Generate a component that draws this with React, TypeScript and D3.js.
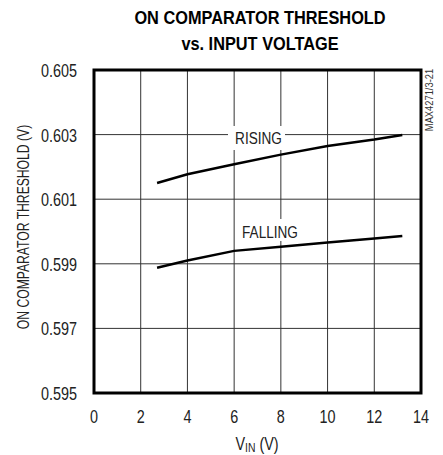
import React from "react";
import * as d3 from "d3";

const xTicks = [0, 2, 4, 6, 8, 10, 12, 14];
const yTicks = [0.595, 0.597, 0.599, 0.601, 0.603, 0.605];
const vin = [2.7, 4, 6, 8, 10, 12, 13.2];
const rising = [0.6015, 0.60177, 0.60208, 0.60238, 0.60265, 0.60285, 0.60299];
const falling = [0.59888, 0.5991, 0.5994, 0.59953, 0.59966, 0.59978, 0.59986];

const FONT = "'Liberation Sans', Arial, sans-serif";

function T({ x, y, sx = 0.8, anchor = "middle", size, weight, children, rot = 0, fill = "#222" }: any) {
  return (
    <text
      transform={`translate(${x},${y}) rotate(${rot}) scale(${sx},1)`}
      textAnchor={anchor}
      fontSize={size}
      fontWeight={weight}
      fill={fill}
    >
      {children}
    </text>
  );
}

export default function App() {
  const W = 443, H = 455;
  const L = 94, R = 421, Tp = 70, B = 393;
  const x = d3.scaleLinear().domain([0, 14]).range([L, R]);
  const y = d3.scaleLinear().domain([0.595, 0.605]).range([B, Tp]);
  const line = d3.line<number>().x((_, i) => x(vin[i])).y((d) => y(d));

  return (
    <svg width={W} height={H} style={{ position: "absolute", left: 0, top: 0, background: "#fff" }} fontFamily={FONT}>
      <rect width={W} height={H} fill="#fff" />
      <T x={260} y={24} size={19} weight="bold" sx={0.86} fill="#000">ON COMPARATOR THRESHOLD</T>
      <T x={260} y={50} size={19} weight="bold" sx={0.86} fill="#000">vs. INPUT VOLTAGE</T>
      {xTicks.slice(1, -1).map((t) => (
        <line key={"vx" + t} x1={x(t)} x2={x(t)} y1={Tp} y2={B} stroke="#333" strokeWidth={1} />
      ))}
      {yTicks.slice(1, -1).map((t) => (
        <line key={"hy" + t} x1={L} x2={R} y1={y(t)} y2={y(t)} stroke="#333" strokeWidth={1} />
      ))}
      <rect x={228} y={126} width={57} height={24} fill="#fff" />
      <T x={258.5} y={144} size={17}>RISING</T>
      <rect x={238} y={219} width={64} height={22} fill="#fff" />
      <T x={270} y={238} size={17}>FALLING</T>
      <path d={line(rising) || ""} fill="none" stroke="#000" strokeWidth={2.5} />
      <path d={line(falling) || ""} fill="none" stroke="#000" strokeWidth={2.5} />
      <rect x={L} y={Tp} width={R - L} height={B - Tp} fill="none" stroke="#000" strokeWidth={3} />
      {yTicks.map((t) => (
        <T key={"yl" + t} x={77} y={y(t) + 7} anchor="end" size={18}>{t.toFixed(3)}</T>
      ))}
      {xTicks.map((t) => (
        <T key={"xl" + t} x={x(t)} y={423} size={18}>{t}</T>
      ))}
      <T x={257} y={450} size={18}>
        V<tspan fontSize={13} dy={2}>IN</tspan><tspan dy={-2}> (V)</tspan>
      </T>
      <T x={29} y={227} rot={-90} size={16} sx={0.76}>ON COMPARATOR THRESHOLD (V)</T>
      <T x={433} y={100} rot={-90} size={11} sx={0.85} fill="#333">MAX4271/3-21</T>
    </svg>
  );
}
